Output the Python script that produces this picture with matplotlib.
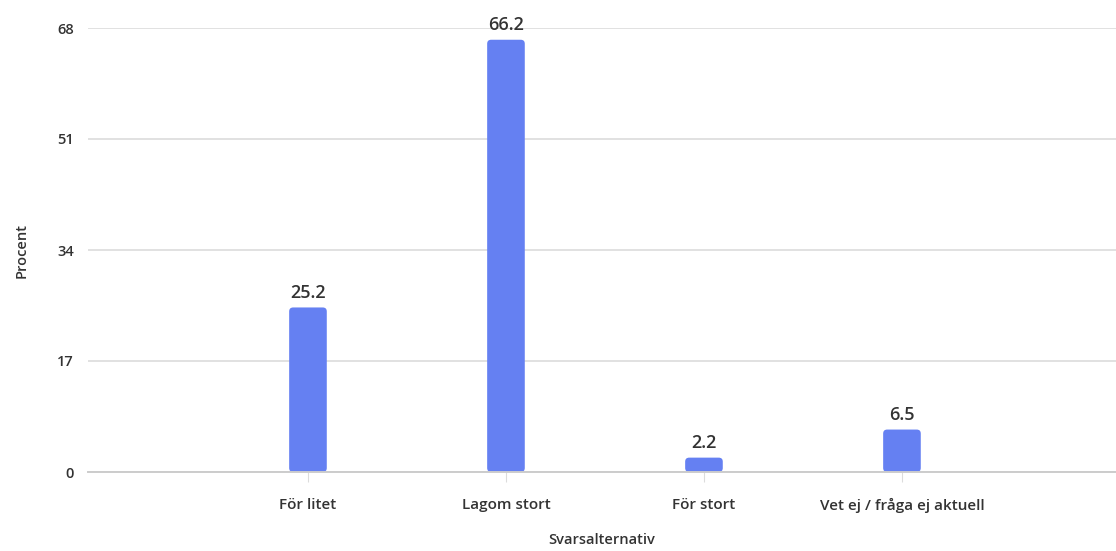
"""Bar chart: Svarsalternativ vs Procent."""

import matplotlib

matplotlib.use("Agg")
import matplotlib.pyplot as plt
from matplotlib.patches import FancyBboxPatch

categories = ["För litet", "Lagom stort", "För stort", "Vet ej / fråga ej aktuell"]
values = [25.2, 66.2, 2.2, 6.5]
y_ticks = [0, 17, 34, 51, 68]

BAR_COLOR = "#6580f2"
TEXT_COLOR = "#333333"
GRID_COLOR = "#dcdcdc"

plt.rcParams.update(
    {
        "font.family": ["Open Sans", "DejaVu Sans"],
        "font.weight": "semibold",
    }
)

fig = plt.figure(figsize=(11.16, 5.51), dpi=100)
ax = fig.add_axes([88 / 1116, 79 / 551, 1 - 88 / 1116, 444 / 551])

x = list(range(len(categories)))
bars = ax.bar(x, values, width=0.19, color=BAR_COLOR, zorder=3)

ax.set_xlim(-1.111, len(categories) - 1 + 1.081)
ax.set_ylim(0, 68)

# swap plain rectangles for rounded ones
px_x = (ax.get_xlim()[1] - ax.get_xlim()[0]) / (1116 - 88)
px_y = 68 / 444
for rect in bars:
    rect.set_visible(False)
    patch = FancyBboxPatch(
        (rect.get_x(), rect.get_y()),
        rect.get_width(),
        rect.get_height(),
        boxstyle=f"round,pad=0,rounding_size={4 * px_x}",
        mutation_aspect=px_y / px_x,
        facecolor=BAR_COLOR,
        edgecolor="none",
        zorder=3,
    )
    ax.add_patch(patch)

for xi, v in zip(x, values):
    ax.annotate(
        f"{v:.1f}",
        (xi, v),
        xytext=(0, 4),
        textcoords="offset points",
        ha="center",
        va="bottom",
        fontsize=13,
        color=TEXT_COLOR,
    )

ax.set_yticks(y_ticks)
ax.set_yticklabels(
    [str(t) for t in y_ticks], fontsize=10.5, color=TEXT_COLOR, fontweight="semibold"
)
ax.set_xticks(x)
ax.set_xticklabels(categories, fontsize=11, color=TEXT_COLOR, fontweight="semibold")
ax.tick_params(axis="y", length=0, pad=10)
ax.tick_params(axis="x", length=7, color=GRID_COLOR, pad=12)

ax.grid(True, axis="y", color=GRID_COLOR, linewidth=1.2, zorder=0)
for side in ["top", "right", "left"]:
    ax.spines[side].set_visible(False)
ax.spines["bottom"].set_color("#cccccc")
ax.spines["bottom"].set_linewidth(1.4)
ax.spines["bottom"].set_zorder(4)

ax.set_xlabel(
    "Svarsalternativ", fontsize=10.5, color=TEXT_COLOR, labelpad=14, fontweight="semibold"
)
ax.set_ylabel(
    "Procent", fontsize=10.5, color=TEXT_COLOR, labelpad=21, fontweight="semibold"
)

fig.savefig("out.png", dpi=100)
